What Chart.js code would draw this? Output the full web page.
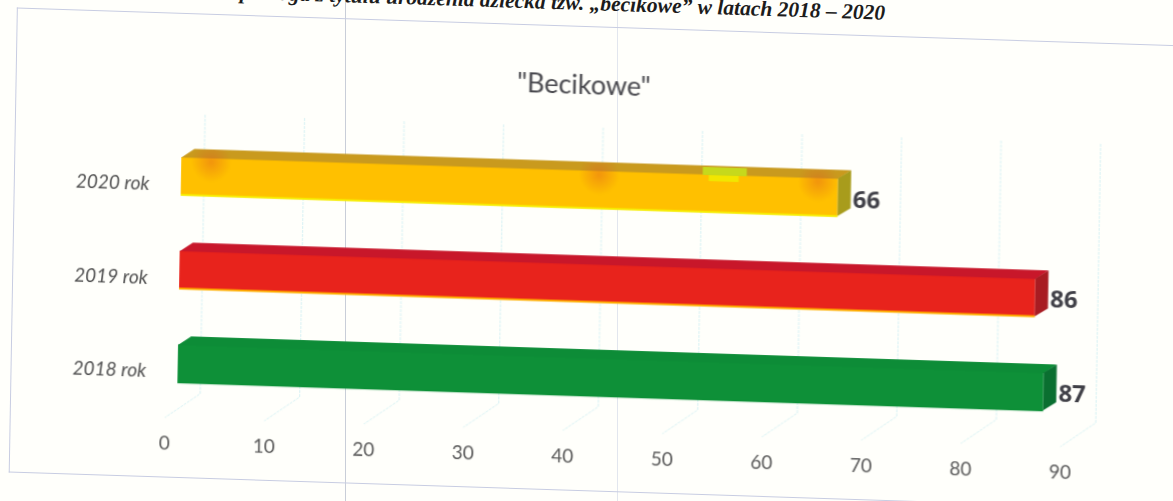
<!DOCTYPE html>
<html lang="pl">
<head>
<meta charset="utf-8">
<title>Becikowe</title>
<script src="https://cdn.jsdelivr.net/npm/chart.js@4/dist/chart.umd.min.js"></script>
<style>
  html, body { margin: 0; width: 1173px; height: 501px; overflow: hidden; background: #fffffb; }
  /* the source is a slightly crooked scan, so the whole sheet gets sheared */
  #sheet {
    position: absolute; left: 0; top: 0; width: 1400px; height: 560px;
    transform-origin: 0 0;
    transform: matrix(1, 0.0325, -0.0175, 1, 0.5, -30);
  }
  #chart { position: absolute; left: 0; top: 0; }
  #frame {
    position: absolute; left: 17px; top: 37px; width: 1380px; height: 463px;
    border: 1px solid #c8cde2; border-right: none;
  }
  #caption {
    position: absolute; right: 515px; top: 2px; white-space: nowrap;
    font: italic bold 21.5px "Liberation Serif", serif; color: #1c1c1c;
  }
  .fold { position: absolute; top: 0; width: 1px; height: 501px; }
</style>
</head>
<body>
<div class="fold" style="left:345px;background:#c9ced8"></div>
<div class="fold" style="left:617px;background:#e2e6ee"></div>
<div id="sheet">
  <div id="frame"></div>
  <div id="caption">Jednorazowa zapomoga z tytułu urodzenia dziecka tzw. „becikowe” w latach 2018 – 2020</div>
  <canvas id="chart" width="1170" height="530"></canvas>
</div>
<script>
const categories = ["2020 rok", "2019 rok", "2018 rok"];
const values = [66, 86, 87];
const tickLabels = [0, 10, 20, 30, 40, 50, 60, 70, 80, 90];

const frontColors = ["#ffc000", "#e8231c", "#0e9038"];
const topColors = ["#c99a1e", "#c8172a", "#0d8c37"];
const sideColors = ["#a89c1c", "#a81c22", "#0a6f30"];
const edgeColors = ["#f7ee00", "#ffb000", "#0e9038"];

// scan stains on the 2020 bar, as axis values
const stainValues = [3, 42, 64];

const depthX = 13;
const depthY = -8.4;

const drawWalls = {
  id: "drawWalls",
  beforeDatasetsDraw(chart) {
    const ctx = chart.ctx;
    const x = chart.scales.x;
    ctx.save();
    ctx.strokeStyle = "#d6f1f4";
    ctx.lineWidth = 1;
    ctx.setLineDash([3, 1]);
    tickLabels.forEach((tick) => {
      const px = x.getPixelForValue(tick);
      ctx.beginPath();
      ctx.moveTo(px + 23, 138);
      ctx.lineTo(px + 23, 417);
      ctx.lineTo(px - 12, 442);
      ctx.stroke();
    });
    ctx.restore();
  },
};

const drawBlocks = {
  id: "drawBlocks",
  afterDatasetsDraw(chart) {
    const ctx = chart.ctx;
    const bars = chart.getDatasetMeta(0).data;
    ctx.save();
    bars.forEach((bar, i) => {
      const top = bar.y - bar.height / 2;
      const bottom = bar.y + bar.height / 2;
      const shape = (points, color) => {
        ctx.fillStyle = color;
        ctx.beginPath();
        points.forEach((p, n) => (n ? ctx.lineTo(p[0], p[1]) : ctx.moveTo(p[0], p[1])));
        ctx.closePath();
        ctx.fill();
      };
      shape([[bar.base, top + 0.5], [bar.base + depthX, top + depthY], [bar.x + depthX, top + depthY], [bar.x, top + 0.5]], topColors[i]);
      shape([[bar.x, top], [bar.x + depthX, top + depthY], [bar.x + depthX, bottom + depthY], [bar.x, bottom]], sideColors[i]);
      ctx.fillStyle = edgeColors[i];
      ctx.fillRect(bar.base, bottom - 1, bar.x - bar.base, 2);
      ctx.fillStyle = "#3f3f46";
      ctx.font = "bold 24px 'Open Sans'";
      ctx.textAlign = "left";
      ctx.textBaseline = "middle";
      ctx.fillText(values[i], bar.x + 15, bar.y + 3);
    });

    // stains and the lime patch, only on the top bar
    const x = chart.scales.x;
    const first = bars[0];
    const firstTop = first.y - first.height / 2;
    stainValues.forEach((v) => {
      const px = x.getPixelForValue(v);
      const g = ctx.createRadialGradient(px, firstTop + 4, 1, px, firstTop + 4, 20);
      g.addColorStop(0, "rgba(225,90,30,0.4)");
      g.addColorStop(1, "rgba(225,90,30,0)");
      ctx.fillStyle = g;
      ctx.fillRect(px - 20, firstTop - 8, 40, 34);
    });
    const lime = x.getPixelForValue(52.4);
    ctx.fillStyle = "#c6d91c";
    ctx.fillRect(lime, firstTop - 7, 44, 8);
    ctx.fillStyle = "#f2e600";
    ctx.fillRect(lime + 6, firstTop + 1, 30, 6);
    ctx.restore();
  },
};

new Chart(document.getElementById("chart"), {
  type: "bar",
  data: {
    labels: categories,
    datasets: [
      {
        label: "Becikowe",
        data: values,
        backgroundColor: frontColors,
        barPercentage: 1,
        categoryPercentage: 0.404,
      },
    ],
  },
  options: {
    indexAxis: "y",
    responsive: false,
    animation: false,
    devicePixelRatio: 1,
    layout: { padding: { left: 90.5, right: 90.5, bottom: 29 } },
    plugins: {
      legend: { display: false },
      tooltip: { enabled: false },
      title: {
        display: true,
        text: '"Becikowe"',
        color: "#47474c",
        font: { family: "Lato", size: 27, weight: "400" },
        padding: { top: 80, bottom: 40.6 },
      },
    },
    scales: {
      x: {
        min: 0,
        max: 90,
        border: { display: false },
        grid: { display: false, drawTicks: false },
        ticks: {
          stepSize: 10,
          padding: 22,
          labelOffset: -12,
          maxRotation: 0,
          color: "#595959",
          font: { family: "Lato", size: 19 },
        },
      },
      y: {
        afterFit(scale) {
          scale.width = 93.5;
        },
        border: { display: false },
        grid: { display: false, drawTicks: false },
        ticks: {
          // mirror keeps the labels from being clipped to the narrow axis box
          mirror: true,
          padding: -105,
          labelOffset: 9,
          color: "#505050",
          font: { family: "Lato", size: 19, style: "italic" },
        },
      },
    },
  },
  plugins: [drawWalls, drawBlocks],
});
</script>
</body>
</html>
